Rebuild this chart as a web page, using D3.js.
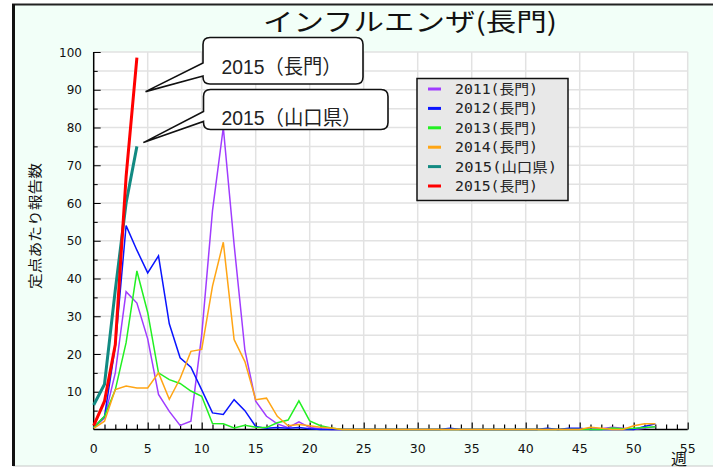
<!DOCTYPE html>
<html><head><meta charset="utf-8">
<script src="https://cdn.jsdelivr.net/npm/d3@7"></script>
<style>
html,body{margin:0;padding:0;background:#fff;}
svg{display:block;}
</style></head>
<body>
<svg id="chart" width="713" height="468"></svg>
<script>
// ---------- data ----------
const title = "インフルエンザ(長門)";
const yLabel = "定点あたり報告数";
const xLabel = "週";
const xTicks = [0,5,10,15,20,25,30,35,40,45,50,55];
const yTicks = [10,20,30,40,50,60,70,80,90,100];
const seriesNames = ["2011(長門)","2012(長門)","2013(長門)","2014(長門)","2015(山口県)","2015(長門)"];
const seriesColors = ["#a03cff","#0a14ff","#22f022","#ffa514","#128a82","#ff0000"];
const seriesWidths = [1.5,1.5,1.5,1.5,3,3];

const v2011 = [0.5,3,15,36.5,33.5,24,9.3,4.8,1.1,2.2,25,58,80,49,21,7.5,3.5,1.5,0.5,2,0.5,0.2,0,0,0,0,0,0,0,0,0,0,0,0,0,0,0,0,0,0,0,0,0,0,0,0,0,0.2,0.6,0.3,0,0.3,0.8];
const v2012 = [0.5,3.5,22,54,47.5,41.5,46,28,19,16.5,10.5,4.4,4,7.9,5,0.8,0.3,0.5,0.3,0.5,0.2,0,0,0,0,0,0,0,0,0,0,0,0,0.3,0,0,0,0,0,0,0,0,0.3,0,0.3,0.3,0,0,0,0,0,0.8,1.5];
const v2013 = [0.5,3.5,10.5,23,42,31,15,13.2,12.2,10.2,8.8,1.6,1.5,0.4,1.1,0.6,0.5,1.8,2.5,7.6,2.3,1,0.4,0,0,0,0,0,0,0,0,0,0,0,0,0,0,0,0,0,0,0,0,0,0,0,0,0,0.4,0.2,0.3,0.5,0.7];
const v2014 = [0.3,2.2,10.6,11.5,11,11,15,8,13.5,20.7,21.2,38,49.6,23.8,18,7.9,8.3,3.5,1,1.3,1,0.6,0.4,0,0,0,0,0,0,0,0,0,0,0,0,0,0,0,0,0,0,0,0,0,0,0,0.6,0.3,0,0,1,1.5,1.5];
const v2015Yamaguchi = [6.5,12,37,60,75];
const v2015Nagato = [1,7.5,22.5,67,98.5];
const callouts = [
  {text:"2015（長門）", target:[4.8,89.5]},
  {text:"2015（山口県）", target:[4.6,76]}
];

// ---------- layout ----------
const svg = d3.select("#chart");
const W = 713, H = 468;
const plot = {left:93.7, right:687.7, top:52, bottom:429.5};
const x = d3.scaleLinear().domain([0,55]).range([plot.left, plot.right]);
const y = d3.scaleLinear().domain([0,100]).range([plot.bottom, plot.top]);

// frame background
svg.append("rect").attr("x",13).attr("y",4).attr("width",W-13).attr("height",462).attr("fill","#f2fff8");
svg.append("line").attr("x1",13).attr("x2",W).attr("y1",466).attr("y2",466).attr("stroke","#c8c8c8").attr("stroke-width",1);
svg.append("line").attr("x1",12).attr("x2",W).attr("y1",4.5).attr("y2",4.5).attr("stroke","#222").attr("stroke-width",2);
svg.append("line").attr("x1",13.5).attr("x2",13.5).attr("y1",4).attr("y2",466).attr("stroke","#111").attr("stroke-width",3);

// plot area
svg.append("rect").attr("x",plot.left).attr("y",plot.top).attr("width",plot.right-plot.left).attr("height",plot.bottom-plot.top).attr("fill","#fff");

const grid = svg.append("g").attr("stroke","#e2e2e2").attr("stroke-width",1.5);
const yGridVals = d3.range(5,101,5);
grid.selectAll("line.h").data(yGridVals).enter().append("line")
  .attr("x1",plot.left).attr("x2",plot.right).attr("y1",d=>y(d)).attr("y2",d=>y(d));
grid.selectAll("line.v").data(xTicks.slice(1)).enter().append("line")
  .attr("x1",d=>x(d)).attr("x2",d=>x(d)).attr("y1",plot.top).attr("y2",plot.bottom);

// axes
const yAxis = d3.axisRight(y).tickValues(d3.range(5,101,5)).tickSize(4).tickFormat("");
const gy = svg.append("g").attr("transform",`translate(${plot.left},0)`).call(yAxis);
gy.select(".domain").remove();
gy.selectAll(".tick line").attr("stroke","#000").attr("x2",d=>d%10===0?7:4);

const xAxis = d3.axisTop(x).tickValues(d3.range(0,56,1)).tickSize(5).tickFormat("");
const gx = svg.append("g").attr("transform",`translate(0,${plot.bottom})`).call(xAxis);
gx.select(".domain").remove();
gx.selectAll(".tick line").attr("stroke","#000").attr("stroke-width",1.2).attr("y2",d=>d%5===0?-7:-5);

svg.append("line").attr("x1",plot.left).attr("x2",plot.left).attr("y1",plot.top).attr("y2",plot.bottom).attr("stroke","#000").attr("stroke-width",1.5);
svg.append("line").attr("x1",plot.left).attr("x2",plot.right).attr("y1",plot.bottom).attr("y2",plot.bottom).attr("stroke","#000").attr("stroke-width",1.5);

// tick labels
svg.append("g").selectAll("text").data(yTicks).enter().append("text")
  .attr("x",82).attr("y",d=>y(d)+4.5).attr("text-anchor","end")
  .attr("font-family","DejaVu Sans, Verdana, sans-serif").attr("font-size",12).attr("fill","#111").text(d=>d);
svg.append("g").selectAll("text").data(xTicks).enter().append("text")
  .attr("x",d=>x(d)).attr("y",453).attr("text-anchor","middle")
  .attr("font-family","DejaVu Sans, Verdana, sans-serif").attr("font-size",12.5).attr("fill","#111").text(d=>d);

// title and axis labels
svg.append("text").attr("x",410).attr("y",31).attr("text-anchor","middle")
  .attr("font-family","Noto Sans CJK JP, sans-serif").attr("font-size",25).attr("fill","#111")
  .attr("textLength",294).attr("lengthAdjust","spacingAndGlyphs").text(title);
svg.append("text").attr("transform","translate(40,226) rotate(-90)").attr("text-anchor","middle")
  .attr("font-family","Noto Sans CJK JP, sans-serif").attr("font-size",13.5).attr("fill","#111")
  .attr("textLength",126).attr("lengthAdjust","spacingAndGlyphs").text(yLabel);
svg.append("text").attr("x",679).attr("y",465).attr("text-anchor","middle")
  .attr("font-family","Noto Sans CJK JP, sans-serif").attr("font-size",16).attr("fill","#111").text(xLabel);

// series
const allSeries = [v2011,v2012,v2013,v2014,v2015Yamaguchi,v2015Nagato];
const line = d3.line().x((d,i)=>x(i)).y(d=>y(d));
const gl = svg.append("g");
allSeries.forEach((vals,k)=>{
  gl.append("path").datum(vals).attr("d",line).attr("fill","none")
    .attr("stroke",seriesColors[k]).attr("stroke-width",seriesWidths[k]).attr("stroke-linejoin","miter");
});

// legend
const lg = svg.append("g");
lg.append("rect").attr("x",417).attr("y",78.5).attr("width",151).attr("height",122).attr("fill","#e8e8e8").attr("stroke","#111").attr("stroke-width",1.5);
seriesNames.forEach((n,i)=>{
  const yy = 89 + i*19.4;
  lg.append("line").attr("x1",428).attr("x2",441).attr("y1",yy).attr("y2",yy).attr("stroke",seriesColors[i]).attr("stroke-width",3);
  lg.append("text").attr("x",455).attr("y",yy+5).attr("font-family","DejaVu Sans Mono, Noto Sans CJK JP, monospace")
    .attr("font-size",13.5).attr("fill","#222")
    .attr("textLength", n.length===8?83:102).attr("lengthAdjust","spacingAndGlyphs").text(n);
});

// callouts
const boxes = [
  {x0:203,y0:37.5,x1:363,y1:84,wy0:63,wy1:76,tx:221.5,ty:74,tl:120},
  {x0:203.5,y0:89.5,x1:388,y1:129.5,wy0:111.5,wy1:121.5,tx:221.5,ty:124.5,tl:140}
];
callouts.forEach((c,i)=>{
  const b = boxes[i], r = 7;
  const tip = [x(c.target[0]), y(c.target[1])];
  const p = d3.path();
  p.moveTo(tip[0],tip[1]);
  p.lineTo(b.x0,b.wy1);
  p.lineTo(b.x0,b.y1-r); p.quadraticCurveTo(b.x0,b.y1,b.x0+r,b.y1);
  p.lineTo(b.x1-r,b.y1); p.quadraticCurveTo(b.x1,b.y1,b.x1,b.y1-r);
  p.lineTo(b.x1,b.y0+r); p.quadraticCurveTo(b.x1,b.y0,b.x1-r,b.y0);
  p.lineTo(b.x0+r,b.y0); p.quadraticCurveTo(b.x0,b.y0,b.x0,b.y0+r);
  p.lineTo(b.x0,b.wy0); p.closePath();
  svg.append("path").attr("d",p.toString()).attr("fill","#fff").attr("stroke","#111").attr("stroke-width",1.6).attr("stroke-linejoin","miter");
  svg.append("text").attr("x",b.tx).attr("y",b.ty)
    .attr("font-family","Liberation Sans, Noto Sans CJK JP, sans-serif").attr("font-size",20).attr("fill","#222")
    .attr("textLength",b.tl).attr("lengthAdjust","spacingAndGlyphs").text(c.text);
});
</script>
</body></html>
